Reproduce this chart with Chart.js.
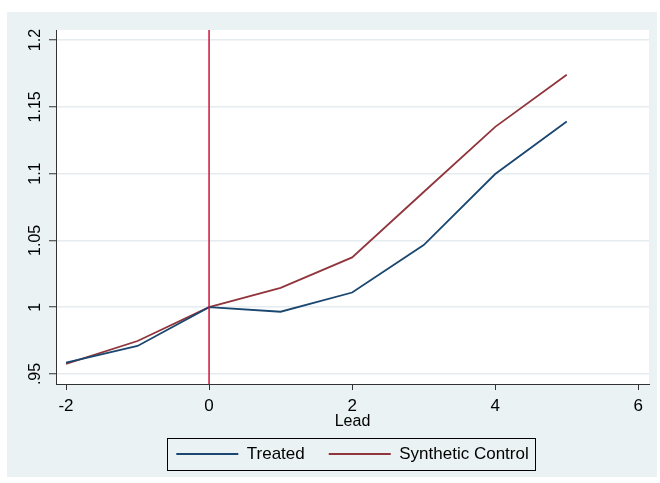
<!DOCTYPE html>
<html>
<head>
<meta charset="utf-8">
<script src="https://cdn.jsdelivr.net/npm/chart.js@4"></script>
<style>
  html, body { margin: 0; padding: 0; background: #fff; }
</style>
</head>
<body>
<canvas id="myChart" width="660" height="483"></canvas>
<script>
// values
const leads = [-2, -1, 0, 1, 2, 3, 4, 5]
const treated = [0.9585, 0.971, 1.0, 0.9966, 1.011, 1.0465, 1.0997, 1.139]
const synthetic = [0.9575, 0.9747, 1.0, 1.0144, 1.0373, 1.0862, 1.135, 1.174]
const xTicks = [-2, 0, 2, 4, 6]
const yTicks = [0.95, 1, 1.05, 1.1, 1.15, 1.2]
const yTickLabels = ['.95', '1', '1.05', '1.1', '1.15', '1.2']
const treatmentLead = 0

Chart.defaults.font.family = 'Arial, "Liberation Sans", sans-serif'
Chart.defaults.color = '#000'

const stataLook = {
  id: 'stataLook',
  beforeDraw(chart) {
    const ctx = chart.ctx
    const a = chart.chartArea
    ctx.save()
    ctx.fillStyle = '#fff'
    ctx.fillRect(0, 0, chart.width, chart.height)
    ctx.fillStyle = '#eaf2f3'
    ctx.fillRect(7, 12, 650, 465)
    ctx.fillStyle = '#fff'
    ctx.fillRect(a.left, a.top, a.right - a.left, a.bottom - a.top)
    ctx.restore()
  },
  afterDatasetsDraw(chart) {
    // vertical line at treatment
    const ctx = chart.ctx
    const a = chart.chartArea
    const x = chart.scales.x.getPixelForValue(treatmentLead)
    ctx.save()
    ctx.strokeStyle = '#d0103a'
    ctx.lineWidth = 1.5
    ctx.beginPath()
    ctx.moveTo(x, a.top)
    ctx.lineTo(x, a.bottom)
    ctx.stroke()
    ctx.restore()
  },
  afterDraw(chart) {
    const ctx = chart.ctx
    const y = chart.scales.y
    ctx.save()
    // rotated y tick labels
    ctx.font = '16px Arial, "Liberation Sans", sans-serif'
    ctx.fillStyle = '#000'
    ctx.textAlign = 'center'
    ctx.textBaseline = 'middle'
    yTicks.forEach((v, i) => {
      ctx.save()
      ctx.translate(chart.chartArea.left - 20.5, y.getPixelForValue(v))
      ctx.rotate(-Math.PI / 2)
      ctx.fillText(yTickLabels[i], 0, 0)
      ctx.restore()
    })
    // legend frame
    const boxes = chart.legend.legendHitBoxes
    if (boxes && boxes.length) {
      const first = boxes[0]
      const last = boxes[boxes.length - 1]
      const cy = first.top + first.height / 2
      ctx.strokeStyle = '#000'
      ctx.lineWidth = 1
      ctx.strokeRect(Math.round(first.left - 9) + 0.5, Math.round(cy - 16) + 0.5,
        Math.round(last.left + last.width + 7 - first.left + 9), 32)
    }
    ctx.restore()
  }
}

const ctx = document.getElementById('myChart').getContext('2d')
const myChart = new Chart(ctx, {
  type: 'line',
  data: {
    datasets: [
      {
        label: 'Treated',
        data: leads.map((l, i) => ({x: l, y: treated[i]})),
        borderColor: '#1a476f',
        backgroundColor: '#1a476f',
        borderWidth: 1.8,
        pointRadius: 0,
        tension: 0
      },
      {
        label: 'Synthetic Control',
        data: leads.map((l, i) => ({x: l, y: synthetic[i]})),
        borderColor: '#90353b',
        backgroundColor: '#90353b',
        borderWidth: 1.8,
        pointRadius: 0,
        tension: 0
      }
    ]
  },
  options: {
    responsive: false,
    animation: false,
    layout: { padding: { left: 7, right: 11, top: 30, bottom: 10.5 } },
    plugins: {
      tooltip: { enabled: false },
      legend: {
        position: 'bottom',
        fullSize: false,
        labels: {
          usePointStyle: true,
          pointStyle: 'line',
          pointStyleWidth: 62,
          padding: 24,
          font: { size: 17 },
          color: '#000'
        }
      }
    },
    scales: {
      x: {
        type: 'linear',
        min: -2.14,
        max: 6.15,
        afterBuildTicks: s => { s.ticks = xTicks.map(v => ({value: v})) },
        afterFit: s => { s.height = 37.5 },
        grid: { drawOnChartArea: false, tickLength: 6, tickColor: '#333', tickWidth: 1 },
        border: { display: true, color: '#333', width: 1 },
        ticks: { padding: 6, font: { size: 17 }, color: '#000', maxRotation: 0 },
        title: { display: true, text: 'Lead', font: { size: 16 }, color: '#000', padding: { top: 0, bottom: -10 } }
      },
      y: {
        type: 'linear',
        min: 0.9425,
        max: 1.2075,
        afterBuildTicks: s => { s.ticks = yTicks.map(v => ({value: v})) },
        afterFit: s => { s.width = 49 },
        grid: { color: '#e4ecf0', lineWidth: 1.5, tickLength: 7, tickColor: '#333', tickWidth: 1 },
        border: { display: true, color: '#333', width: 1 },
        ticks: { display: false }
      }
    }
  },
  plugins: [stataLook]
})
</script>
</body>
</html>
